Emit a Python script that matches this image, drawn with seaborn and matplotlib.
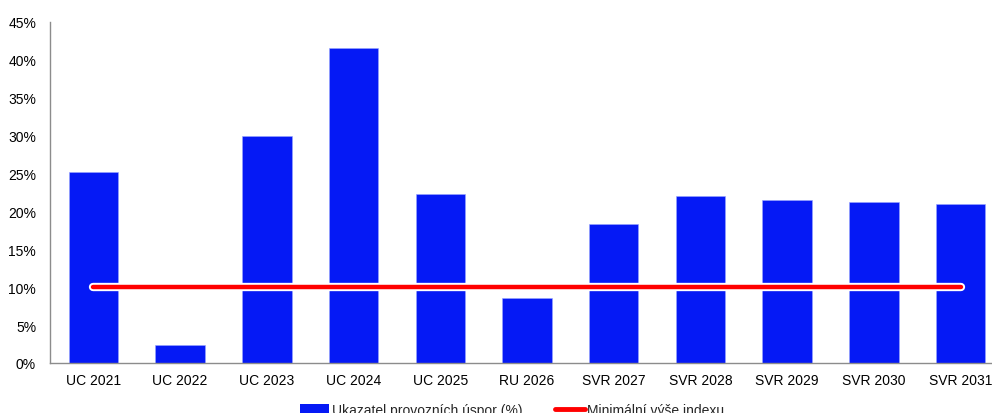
import matplotlib
matplotlib.use("Agg")
import matplotlib.pyplot as plt
import matplotlib.patheffects as pe
from matplotlib.patches import Patch
from matplotlib.lines import Line2D
from matplotlib.ticker import PercentFormatter
import seaborn as sns
import pandas as pd

# ── Data ──────────────────────────────────────────────────────
categories = ["UC 2021", "UC 2022", "UC 2023", "UC 2024", "UC 2025", "RU 2026",
              "SVR 2027", "SVR 2028", "SVR 2029", "SVR 2030", "SVR 2031"]
savings    = [25.2, 2.4, 29.9, 41.6, 22.3, 8.6, 18.3, 22.0, 21.5, 21.2, 21.0]
min_index  = [10, 10, 10, 10, 10, 10, 10, 10, 10, 10, 10]

bar_label  = "Ukazatel provozních úspor (%)"
line_label = "Minimální výše indexu"

BLUE = "#0519F5"
RED  = "#FF0000"

sns.set_style("white")
plt.rcParams["font.family"] = ["Liberation Sans", "DejaVu Sans"]

df = pd.DataFrame({"cat": categories, "val": savings, "min": min_index})

fig = plt.figure(figsize=(9.92, 4.14), dpi=100)
ax = fig.add_axes([50 / 992, 50 / 414, 954 / 992, 341 / 414])

sns.barplot(data=df, x="cat", y="val", color=BLUE, width=0.57,
            saturation=1, edgecolor="#9aa6ff", linewidth=0.4, ax=ax)
ax.plot(df["cat"], df["min"], color=RED, lw=3.2, solid_capstyle="round",
        zorder=5,
        path_effects=[pe.Stroke(linewidth=6, foreground="white"), pe.Normal()])

ax.set_ylim(0, 45)
ax.set_xlim(-0.5, len(categories) - 0.5)
ax.set_yticks(range(0, 50, 5))
ax.yaxis.set_major_formatter(PercentFormatter(decimals=0))
ax.set_xlabel("")
ax.set_ylabel("")
ax.tick_params(axis="both", length=0, labelsize=10, colors="black")
ax.tick_params(axis="y", pad=10)
ax.tick_params(axis="x", pad=7)

for side in ("top", "right"):
    ax.spines[side].set_visible(False)
for side in ("left", "bottom"):
    ax.spines[side].set_color("#8c8c8c")
    ax.spines[side].set_linewidth(1.0)

handles = [Patch(facecolor=BLUE, edgecolor="none"),
           Line2D([0], [0], color=RED, lw=3.5, solid_capstyle="round")]
fig.legend(handles, [bar_label, line_label], loc="center",
           bbox_to_anchor=(512 / 992, 3 / 414), ncol=2, frameon=False,
           fontsize=10, handlelength=2.1, handletextpad=0.15,
           columnspacing=2.4, handleheight=0.7)

fig.savefig("out.png", dpi=100)
